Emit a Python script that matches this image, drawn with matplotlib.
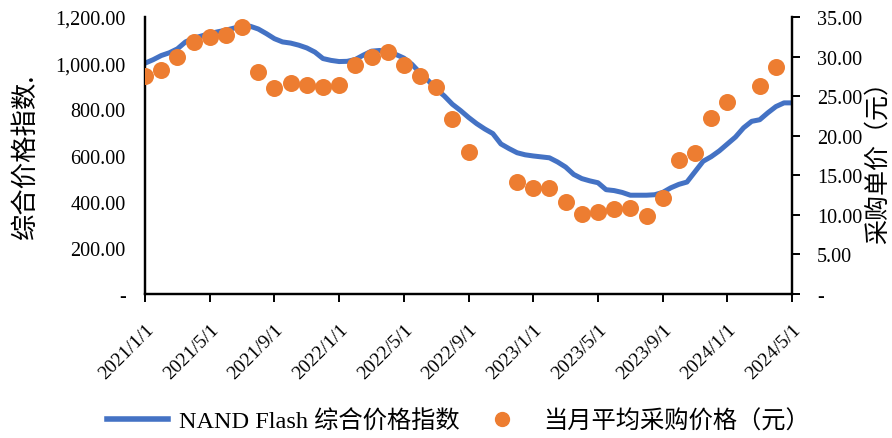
import matplotlib
matplotlib.use('Agg')
import matplotlib.pyplot as plt
from matplotlib.ticker import FuncFormatter, FixedLocator
from matplotlib.lines import Line2D
import numpy as np

# NAND Flash 综合价格指数, 半月取样 (月份序号 0 = 2021/1/1)
idx_month = np.arange(81) / 2.0
idx_value = [1000, 1015, 1033, 1045, 1062, 1092, 1108, 1118, 1128, 1136,
             1143, 1152, 1160, 1160, 1148, 1128, 1106, 1092, 1087, 1078,
             1066, 1048, 1020, 1012, 1007, 1008, 1016, 1035, 1052, 1055,
             1048, 1038, 1022, 995, 958, 925, 888, 858, 822, 795,
             765, 738, 715, 695, 650, 630, 612, 603, 598, 594,
             590, 572, 550, 518, 500, 490, 482, 452, 448, 440,
             428, 428, 428, 430, 440, 460, 475, 485, 530, 575,
             595, 620, 650, 680, 720, 748, 755, 785, 812, 828, 828]

# 当月平均采购价格（元）
price_month = [0, 1, 2, 3, 4, 5, 6, 7, 8, 9, 10, 11, 12, 13, 14, 15, 16, 17, 18, 19, 20,
               23, 24, 25, 26, 27, 28, 29, 30, 31, 32, 33, 34, 35, 36, 38, 39]
price_value = [27.5, 28.3, 29.9, 31.9, 32.5, 32.7, 33.7, 28.1, 26.0, 26.6, 26.4, 26.2,
               26.4, 28.9, 30.0, 30.6, 28.9, 27.6, 26.1, 22.1, 18.0,
               14.1, 13.4, 13.4, 11.6, 10.1, 10.4, 10.75, 10.9, 9.9, 12.1, 16.9, 17.8,
               22.3, 24.3, 26.3, 28.7]

tick_pos = list(range(0, 41, 4))
tick_labels = ['2021/1/1', '2021/5/1', '2021/9/1', '2022/1/1', '2022/5/1', '2022/9/1',
               '2023/1/1', '2023/5/1', '2023/9/1', '2024/1/1', '2024/5/1']

blue = '#4472C4'
orange = '#ED7D31'
serif = ['Liberation Serif', 'Noto Sans CJK SC']
cjk = ['Noto Sans CJK SC', 'DejaVu Sans']

fig = plt.figure(figsize=(8.92, 4.39), dpi=100)
ax = fig.add_axes([0.1626, 0.328, 0.7254, 0.631])
ax2 = ax.twinx()

ax.plot(idx_month, idx_value, color=blue, lw=3.6, solid_capstyle='butt', zorder=2)
ax2.scatter(price_month, price_value, s=150, color=orange, zorder=3, linewidths=0)

ax.set_xlim(0, 40)
ax.set_ylim(0, 1200)
ax2.set_ylim(0, 35)

ax.set_yticks(np.arange(0, 1201, 200))
ax2.set_yticks(np.arange(0, 35.1, 5))
ax.yaxis.set_major_formatter(FuncFormatter(lambda v, p: '-' if v == 0 else f'{v:,.2f}'))
ax2.yaxis.set_major_formatter(FuncFormatter(lambda v, p: '-' if v == 0 else f'{v:.2f}'))

ax.xaxis.set_major_locator(FixedLocator(tick_pos))
ax.set_xticklabels(tick_labels, rotation=45, ha='right', rotation_mode='anchor',
                   family=serif, fontsize=14)

for a in (ax, ax2):
    a.spines['top'].set_visible(False)
    for s in ('left', 'bottom', 'right'):
        a.spines[s].set_linewidth(1.6)
        a.spines[s].set_color('black')

ax.tick_params(axis='y', length=0, pad=14, labelsize=14.5)
ax.tick_params(axis='x', length=6, width=1.4, pad=13)
ax2.tick_params(axis='y', length=6, width=1.4, pad=12, labelsize=14.5)
for lab in ax.get_yticklabels() + ax2.get_yticklabels():
    lab.set_family(serif)

ax.set_ylabel('综合价格指数.', family=cjk, fontsize=19, labelpad=12)
ax2.set_ylabel('采购单价（元）', family=cjk, fontsize=18, labelpad=2)

handles = [Line2D([], [], color=blue, lw=4),
           Line2D([], [], color=orange, marker='o', ls='', markersize=10)]
fig.legend(handles, ['NAND Flash 综合价格指数', '当月平均采购价格（元）'],
           loc='center', bbox_to_anchor=(0.514, 0.038), ncol=2, frameon=False,
           prop={'family': serif, 'size': 17.5}, handlelength=2.5, handletextpad=0.45,
           columnspacing=0.5)

fig.savefig('out.png', dpi=100)
